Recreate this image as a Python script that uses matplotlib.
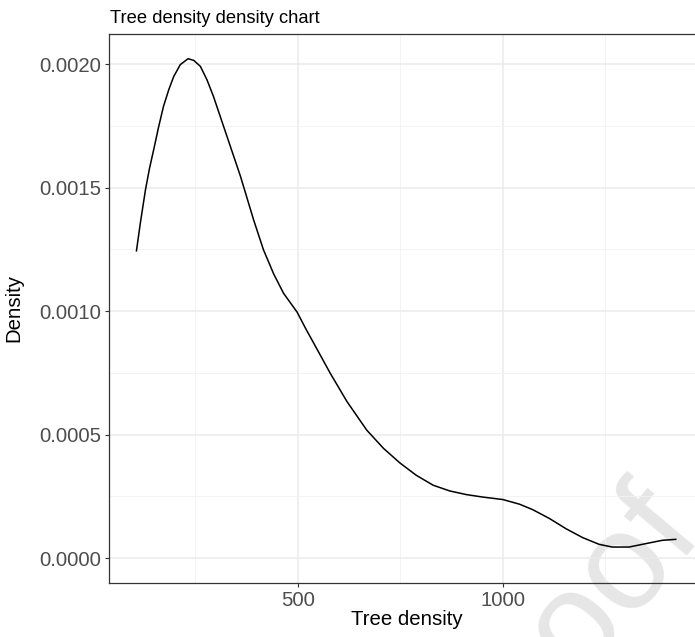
import matplotlib
matplotlib.use('Agg')
import matplotlib.pyplot as plt
from matplotlib.ticker import FixedLocator, FormatStrFormatter

plt.rcParams['font.family'] = ['Liberation Sans', 'DejaVu Sans']

# kurva gustoće očitana sa slike
tree_density = [106, 116, 128, 138, 148, 160, 172, 185, 197, 213, 232, 246, 262, 278, 294,
                327, 360, 392, 416, 441, 465, 498, 520, 538, 579, 620, 668, 709,
                749, 789, 830, 870, 911, 951, 1000, 1041, 1073, 1114, 1154, 1195,
                1235, 1267, 1308, 1349, 1389, 1422]
density = [0.001244, 0.001362, 0.001491, 0.001579, 0.001653, 0.001745, 0.001829, 0.001897,
           0.001950, 0.001998, 0.002022, 0.002015, 0.001991, 0.001937, 0.001869,
           0.001707, 0.001545, 0.001369, 0.001248, 0.001150, 0.001072,
           0.000996, 0.000926, 0.000872, 0.000748, 0.000633, 0.000518, 0.000444,
           0.000385, 0.000335, 0.000295, 0.000272, 0.000257, 0.000247, 0.000237,
           0.000218, 0.000196, 0.000160, 0.000119, 0.0000827, 0.0000556,
           0.0000446, 0.0000446, 0.0000584, 0.0000718, 0.0000758]

x_major = [500, 1000]
x_minor = [250, 750, 1250]
y_major = [0.0, 0.0005, 0.0010, 0.0015, 0.0020]
y_minor = [0.00025, 0.00075, 0.00125, 0.00175]

fig = plt.figure(figsize=(6.95, 6.37), dpi=100)
ax = fig.add_axes([109.4 / 695, 1 - 583 / 637, (704 - 109.4) / 695, (583 - 34) / 637])
ax.set_facecolor('none')

ax.plot(tree_density, density, color='black', lw=1.1, zorder=3,
        solid_joinstyle='round')

ax.set_xlim(40, 1491)
ax.set_ylim(-0.000101, 0.002122)

ax.xaxis.set_major_locator(FixedLocator(x_major))
ax.xaxis.set_minor_locator(FixedLocator(x_minor))
ax.yaxis.set_major_locator(FixedLocator(y_major))
ax.yaxis.set_minor_locator(FixedLocator(y_minor))
ax.yaxis.set_major_formatter(FormatStrFormatter('%.4f'))

ax.grid(which='major', color='#EBEBEB', lw=1.1, zorder=0)
ax.grid(which='minor', color='#F2F2F2', lw=0.6, zorder=0)
ax.set_axisbelow(True)

for s in ['left', 'top', 'bottom']:
    ax.spines[s].set_color('#333333')
    ax.spines[s].set_linewidth(0.9)
ax.spines['right'].set_visible(False)

ax.tick_params(which='major', length=3.2, width=0.8, color='#333333',
               labelsize=14.7, labelcolor='#4D4D4D', pad=2.5)
ax.tick_params(which='minor', length=0)

ax.set_xlabel('Tree density', fontsize=14.7, color='black')
ax.set_ylabel('Density', fontsize=14.7, color='black')
ax.xaxis.set_label_coords((406.7 - 109.4) / (704 - 109.4), -(610 - 583) / (583 - 34))
ax.yaxis.set_label_coords((23.3 - 109.4) / (704 - 109.4), 0.5)

fig.text(110 / 695, 1 - 23 / 637, 'Tree density density chart', fontsize=13.2,
         color='black', ha='left', va='baseline')

# vodeni žig (ispod mreže i krivulje)
fig.text(701 / 695, 1 - 526 / 637, 'Proof', fontsize=100, color='#E6E6E6',
         rotation=50, rotation_mode='anchor', ha='right', va='baseline', zorder=-1)

fig.savefig('out.png', dpi=100, facecolor='white')
